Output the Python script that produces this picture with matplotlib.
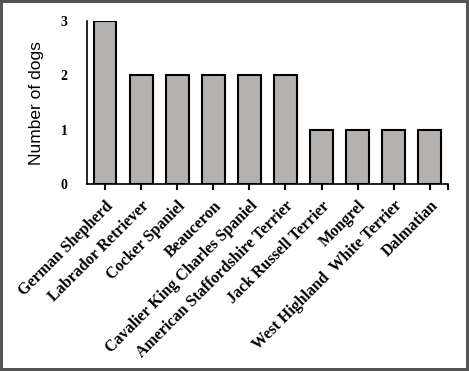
import matplotlib
matplotlib.use('Agg')
import matplotlib.pyplot as plt
import numpy as np

breeds = ['German Shepherd', 'Labrador Retriever', 'Cocker Spaniel', 'Beauceron',
          'Cavalier King Charles Spaniel', 'American Staffordshire Terrier',
          'Jack Russell Terrier', 'Mongrel', 'West Highland  White Terrier', 'Dalmatian']
dogs = [3, 2, 2, 2, 2, 2, 1, 1, 1, 1]
yticks = [0, 1, 2, 3]

fig = plt.figure(figsize=(4.69, 3.71), dpi=100)
fig.patch.set_edgecolor('#555555')
fig.patch.set_linewidth(3)
ax = fig.add_axes([0.1855, 0.504, 0.7695, 0.439])

x = np.arange(len(breeds))
ax.bar(x, dogs, width=0.63, color='#b4b1af', edgecolor='black', linewidth=1.5)

ax.set_xlim(-0.5, len(breeds) - 0.5)
ax.set_ylim(0, 3)
ax.set_yticks(yticks)
ax.set_yticklabels([str(v) for v in yticks], family='Liberation Serif',
                   fontweight='bold', fontsize=10)
ax.tick_params(axis='y', length=0, pad=14)

ax.set_xticks(x)
ax.set_xticks([len(breeds) - 0.5], minor=True)
ax.set_xticklabels(breeds, rotation=45, ha='right', rotation_mode='anchor',
                   family='Liberation Serif', fontweight='bold', fontsize=11.5)
ax.tick_params(axis='x', which='both', length=4, width=1.5, pad=6)

ax.set_ylabel('Number of dogs', family='Liberation Sans', fontsize=12.5, labelpad=12)

for s in ['top', 'right']:
    ax.spines[s].set_visible(False)
ax.spines['left'].set_linewidth(1.2)
ax.spines['bottom'].set_linewidth(1.2)

fig.savefig('out.png', dpi=100)
